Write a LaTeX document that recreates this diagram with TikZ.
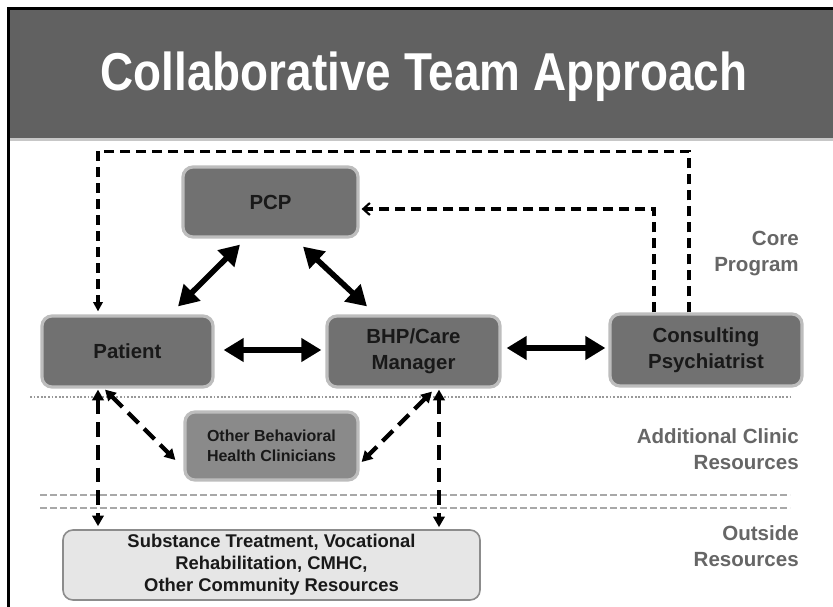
\documentclass[tikz,border=0pt]{standalone}
\usepackage{fontspec}
\setmainfont{Liberation Sans}
\usetikzlibrary{arrows.meta,calc}
\definecolor{hdr}{HTML}{616161}
\definecolor{boxfill}{HTML}{717171}
\definecolor{boxfilltwo}{HTML}{8A8A8A}
\definecolor{lightfill}{HTML}{E6E6E6}
\definecolor{sidetxt}{HTML}{666666}
\definecolor{sepgray}{HTML}{A8A8A8}
\definecolor{halo}{HTML}{BDBDBD}
\begin{document}
\begin{tikzpicture}[x=0.75pt,y=-0.75pt,
  corebox/.style={rectangle,rounded corners=7.5pt,fill=boxfill,draw=halo,line width=2.4pt,
     text=black!90,font=\fontsize{15.3pt}{19.5pt}\selectfont\bfseries,align=center,inner sep=0pt},
  clinbox/.style={corebox,fill=boxfilltwo,font=\fontsize{12pt}{15pt}\selectfont\bfseries},
  outbox/.style={rectangle,rounded corners=7.5pt,fill=lightfill,draw=black!45,line width=1.2pt,
     text=black!90,font=\fontsize{13.8pt}{16.5pt}\selectfont\bfseries,align=center,inner sep=0pt},
  sidelabel/.style={anchor=east,align=right,text=sidetxt,font=\fontsize{15.4pt}{19.5pt}\selectfont\bfseries,inner sep=0pt},
  bigarrow/.style={line width=4.2pt,{Triangle[length=15pt,width=17pt]}-{Triangle[length=15pt,width=17pt]}},
  toploop/.style={line width=2.4pt,dash pattern=on 7.5pt off 4.5pt},
  lowdash/.style={line width=3.2pt,dash pattern=on 11pt off 6pt,{Triangle[length=8pt,width=8.5pt]}-{Triangle[length=8pt,width=8.5pt]}},
  sepline/.style={sepgray,line width=1.5pt,dash pattern=on 5pt off 2.5pt}
]
\useasboundingbox (0,0) rectangle (833,607);
\fill[white] (0,0) rectangle (833,607);
% header
\fill[hdr] (8,8) rectangle (833,138);
\fill[black!22] (9,138) rectangle (833,141);
\draw[black,line width=2.25pt] (8,607) -- (8,8) -- (833,8);
\node[text=white,font=\fontsize{40pt}{46pt}\selectfont\bfseries] (title) at (424,77) {\scalebox{0.86}[1]{Collaborative Team Approach}};

% separators
\draw[black!40,line width=1.3pt,dash pattern=on 1.3pt off 1.4pt] (30,397) -- (792,397);
\draw[sepline] (40,495) -- (790,495);
\draw[sepline] (40,508) -- (790,508);

% boxes
\node[corebox,minimum width=131.25pt,minimum height=52.5pt] (pcp) at (270.5,202) {PCP};
\node[corebox,minimum width=128.25pt,minimum height=53.25pt] (patient) at (127.5,351.5) {Patient};
\node[corebox,minimum width=129.75pt,minimum height=53.25pt] (bhp) at (413.5,351.5) {BHP/Care\\Manager};
\node[corebox,minimum width=144pt,minimum height=54pt] (cons) at (706,350) {Consulting\\Psychiatrist};
\node[clinbox,minimum width=129.75pt,minimum height=51pt] (obhc) at (271.5,446) {Other Behavioral\\Health Clinicians};
\node[outbox,minimum width=312.75pt,minimum height=52.5pt] (outr) at (271.5,565) {Substance Treatment, Vocational\\Rehabilitation, CMHC,\\Other Community Resources};

% side labels
\node[sidelabel] (lcore) at (799,253.5) {Core\\Program};
\node[sidelabel] (laddl) at (799,449.5) {Additional Clinic\\Resources};
\node[sidelabel] (lout) at (799,546.5) {Outside\\Resources};

% thick double arrows
\draw[bigarrow] ($(pcp.south)+(-30.5,6)$) -- ($(patient.north)+(50.5,-8)$);
\draw[bigarrow] ($(pcp.south)+(32.5,8)$) -- ($(bhp.north)+(-46.5,-8)$);
\draw[bigarrow] ($(patient.east)+(9,-1.5)$) -- ($(bhp.west)+(-4,-1.5)$);
\draw[bigarrow] ($(bhp.east)+(5,-3.5)$) -- ($(cons.west)+(-3,-2)$);

% top dashed connectors
\draw[toploop,-{Triangle[length=7pt,width=7pt]}] ($(cons.north)+(-17,0)$) -- ++(0,-161) -| ($(patient.north)+(-29.5,-3)$);
\draw[toploop,-{Straight Barb[length=5pt,width=9pt,line width=1.6pt]}] ($(cons.north)+(-52,0)$) |- ($(pcp.east)+(2,7)$);

% lower dashed connectors
\draw[lowdash] ($(patient.south)+(-29.5,1)$) -- ($(outr.north)+(-173.5,-3)$);
\draw[lowdash] ($(bhp.south)+(25.5,1)$) -- ($(outr.north)+(167.5,-2)$);
\draw[lowdash] ($(patient.south)+(-22.5,1)$) -- ($(obhc.west)+(-8,14)$);
\draw[lowdash] ($(bhp.south)+(18.5,3)$) -- ($(obhc.east)+(2,16)$);
\end{tikzpicture}
\end{document}
